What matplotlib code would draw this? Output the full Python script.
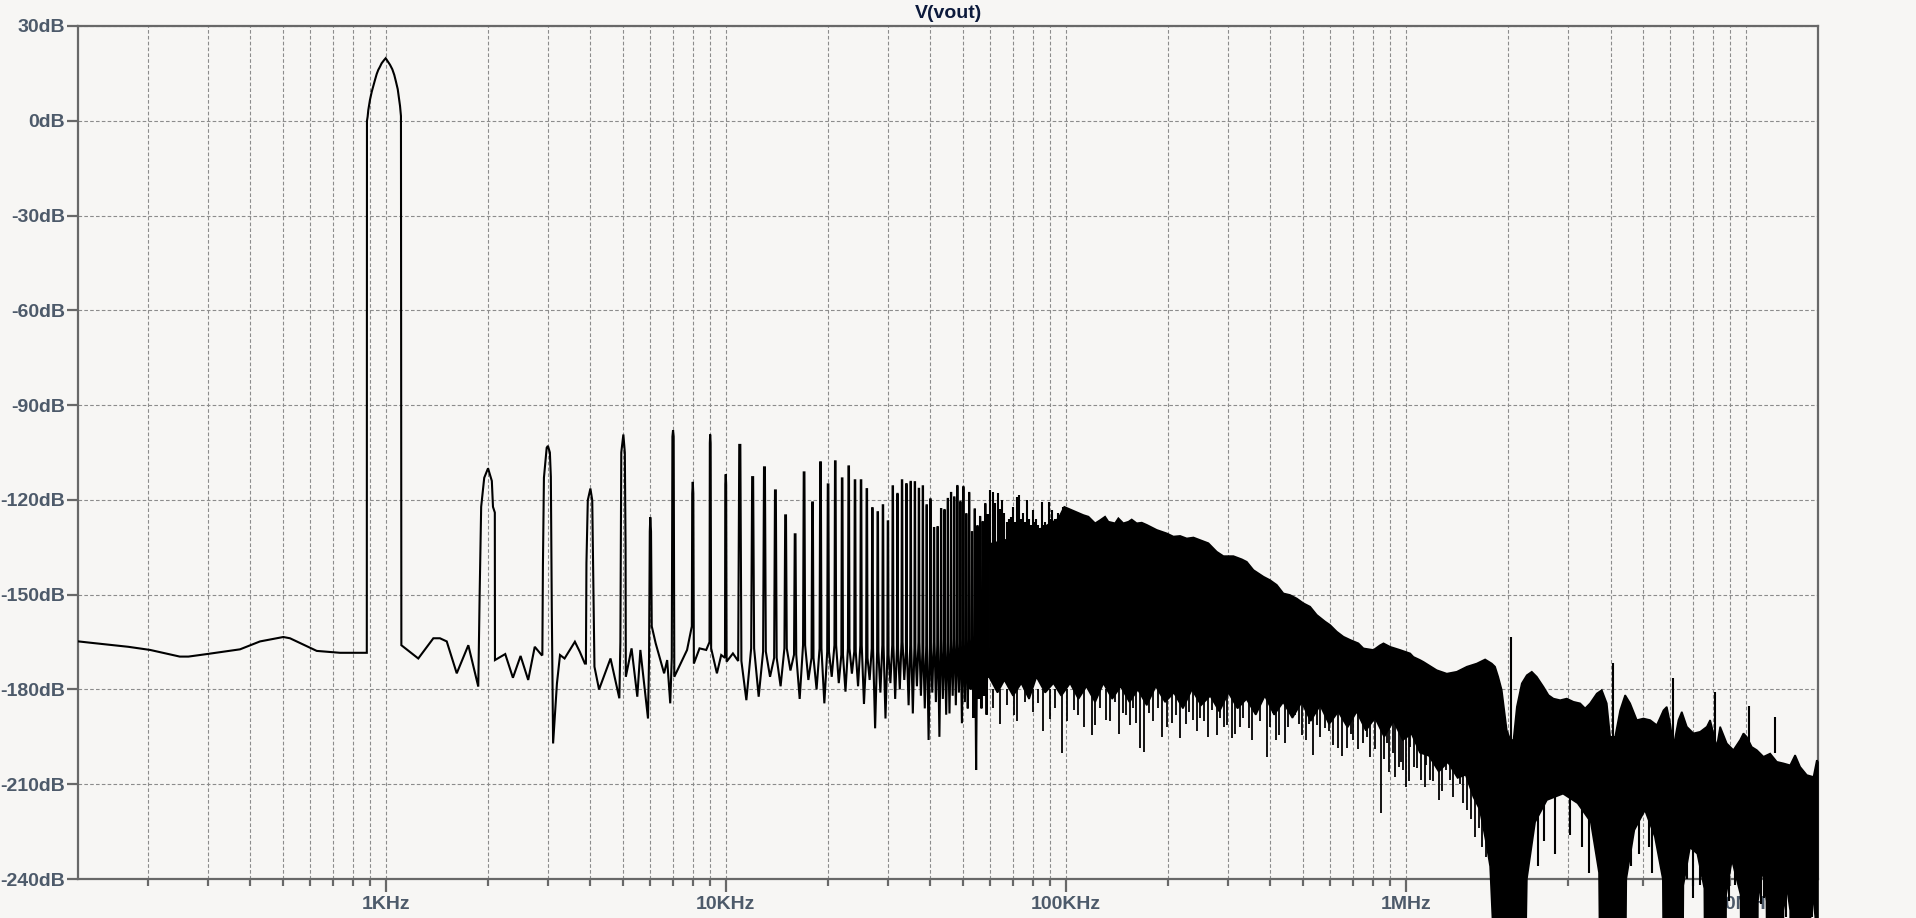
import matplotlib
matplotlib.use("Agg")
import matplotlib.pyplot as plt
from matplotlib.ticker import FixedLocator, FixedFormatter, LogLocator, NullFormatter

plt.rcParams['lines.scale_dashes'] = False
plt.rcParams['font.family'] = ['Liberation Sans', 'DejaVu Sans']
plt.rcParams['font.weight'] = 'bold'

# ---------------- data ----------------
title = "V(vout)"

x_tick_vals = [1e3, 1e4, 1e5, 1e6, 1e7]
x_tick_labels = ["1KHz", "10KHz", "100KHz", "1MHz", "10MHz"]
y_tick_vals = [30, 0, -30, -60, -90, -120, -150, -180, -210, -240]
y_tick_labels = [f"{v}dB" for v in y_tick_vals]

# low-frequency trace 125 Hz .. 10.5 kHz (Hz, dB)
lf_freq = [125, 135, 175, 203, 248, 263, 298, 373, 427, 500, 523, 627, 734, 880,
           881, 885, 889, 899, 910, 919.5, 930, 941, 951, 962, 973, 989, 1000, 1011, 1030,
           1046, 1060, 1072, 1085, 1094, 1102, 1109, 1112,
           1247, 1381, 1444, 1512, 1618, 1750, 1872,
           1889, 1909, 1949, 2000, 2052, 2068, 2094, 2096,
           2247, 2367, 2493, 2625, 2744, 2874,
           2889, 2900, 2920, 2975, 3000, 3040, 3060, 3080, 3107,
           3189, 3256, 3358, 3601, 3724, 3852,
           3880, 3894, 3930, 4000, 4050, 4078, 4111,
           4241, 4584, 4866,
           4900, 4930, 5000, 5050, 5075, 5084,
           5286, 5495, 5610, 5908,
           5950, 5980, 6000, 6030, 6060, 6223,
           6589, 6727, 6868,
           6940, 6970, 7000, 7030, 7060, 7697,
           7950, 7970, 8000, 8030, 8060, 8375, 8762,
           8960, 8980, 9000, 9030, 9060, 9421, 9700,
           9950, 9970, 10000, 10030, 10060, 10500]
lf_db = [-164.8, -165.2, -166.5, -167.5, -169.6, -169.6, -168.8, -167.3, -164.8, -163.4, -163.8, -167.8, -168.4, -168.4,
         0.0, 1.3, 3.4, 6.6, 9.2, 11.0, 12.9, 14.8, 16.1, 17.1, 18.2, 19.2, 19.8, 19.0, 17.7,
         16.3, 14.5, 12.4, 10.0, 7.1, 4.7, 1.5, -166.0,
         -170.2, -163.8, -163.8, -164.8, -174.9, -166.0, -179.1,
         -150.7, -122.2, -113.0, -110.0, -114.0, -122.2, -124.0, -170.7,
         -168.8, -176.3, -169.4, -177.0, -166.5, -169.1,
         -169.0, -141.0, -113.0, -103.5, -102.9, -105.0, -112.7, -155.0, -197.1,
         -178.1, -169.1, -170.2, -164.9, -168.1, -171.8,
         -171.8, -140.0, -120.1, -116.4, -120.1, -145.0, -172.8,
         -180.0, -170.2, -182.8,
         -165.0, -105.0, -99.3, -105.0, -135.0, -176.0,
         -167.0, -182.3, -167.5, -189.2,
         -170.0, -130.0, -125.5, -130.0, -160.0, -165.4,
         -174.9, -170.7, -184.4,
         -170.0, -100.0, -97.9, -100.0, -176.0, -167.5,
         -160.0, -118.0, -114.3, -118.0, -171.8, -167.0, -167.5,
         -165.0, -102.0, -99.3, -102.0, -167.0, -174.9, -169.1,
         -170.0, -115.0, -111.9, -115.0, -171.2, -168.6]

# harmonics 11..59 kHz: peak level, floor beside the spike, dip in the gap after it
harm_k = list(range(11, 60))
harm_peak_db = [-102.6, -112.8, -109.7, -117.0, -124.9, -130.9, -111.3, -120.8, -108.1, -115.1,
                -107.8, -113.2, -109.4, -113.8, -113.8, -116.6, -122.6, -123.9, -121.7, -126.8,
                -115.7, -118.1, -113.8, -115.0, -114.3, -114.4, -116.5, -115.7, -121.7, -119.8,
                -128.9, -128.6, -122.9, -123.2, -119.7, -117.8, -119.2, -115.6, -120.6, -115.9,
                -124.5, -117.8, -130.2, -123.0, -128.3, -125.4, -127.0, -121.3, -124.8]
harm_floor_db = [-171, -167, -168, -170, -167, -169, -166, -170, -167, -168,
                 -166, -169, -167, -168, -166, -170, -167, -168, -166, -169,
                 -166, -167, -165, -168, -166, -167, -165, -168, -166, -167,
                 -165, -166, -164, -167, -165, -166, -164, -166, -165, -164,
                 -166, -164, -165, -163, -165, -164, -163, -165, -164]
gap_dip_db = [-183.4, -182.3, -176, -179, -174, -183, -177, -180, -184.4, -176,
              -178, -180.7, -175, -179, -184.6, -177, -192.3, -181, -189.2, -178,
              -183, -180, -177, -185, -187.6, -179, -182, -186, -196, -181,
              -184, -195, -183, -188, -187.6, -182, -185, -181, -190.7, -184,
              -186, -180, -189, -205.5, -183, -186, -182, -188]

# harmonic spikes riding on the dense region, 60..98 kHz
hf_k = list(range(60, 99))
hf_peak_db = [-116.9, -117.4, -121.0, -117.9, -123.0, -120.1, -124.0, -127.0, -125.9, -125.3,
              -122.2, -127.0, -119.0, -118.5, -126.0, -124.0, -127.0, -120.1, -126.0, -128.0,
              -123.2, -127.0, -125.9, -128.0, -129.0, -120.6, -128.0, -127.0, -129.0, -120.6,
              -126.0, -123.2, -127.0, -126.0, -128.0, -124.3, -127.0, -126.0, -122.4]

# dense region: upper envelope
env_up_f = [59.5e3, 65e3, 75e3, 85e3, 95e3, 99e3, 112.7e3, 116.6e3, 122e3, 126.2e3, 130.5e3, 133.5e3,
            139.6e3, 142.8e3, 147.7e3, 152.9e3, 156.3e3, 161.7e3, 167.3e3, 173.1e3, 185.2e3, 198.2e3,
            207.3e3, 216.9e3, 226.9e3, 237.4e3, 248.3e3, 262.7e3, 278e3, 290.9e3, 311.2e3, 329.4e3,
            340.7e3, 356.4e3, 381.4e3, 398.9e3, 417.3e3, 436.6e3, 456.6e3, 477.8e3, 499.8e3, 523.1e3,
            547.2e3, 578.9e3, 599e3, 626.6e3, 655.5e3, 685.8e3, 725.5e3, 750.7e3, 803.3e3, 840e3,
            859.8e3, 899.3e3, 962.4e3, 1.03e6, 1.053e6, 1.102e6, 1.128e6, 1.233e6, 1.32e6, 1.412e6,
            1.512e6, 1.617e6, 1.711e6, 1.79e6, 1.83e6, 1.87e6, 1.915e6, 1.981e6, 2.03e6,
            2.073e6, 2.121e6, 2.193e6, 2.269e6, 2.347e6, 2.428e6, 2.541e6, 2.628e6, 2.718e6, 2.844e6,
            2.974e6, 3.112e6, 3.256e6, 3.368e6, 3.483e6, 3.645e6, 3.77e6, 3.9e6, 3.99e6, 4.127e6,
            4.269e6, 4.416e6, 4.568e6, 4.779e6, 5.0e6, 5.231e6, 5.472e6, 5.725e6, 5.855e6, 5.99e6,
            6.125e6, 6.336e6, 6.481e6, 6.706e6, 7.015e6, 7.34e6, 7.68e6, 7.852e6, 8.03e6, 8.214e6,
            8.403e6, 8.79e6, 9.193e6, 9.62e6, 9.84e6, 10.06e6, 10.41e6, 10.77e6, 11.27e6, 11.79e6,
            12.33e6, 12.9e6, 13.5e6, 13.96e6, 14.44e6, 15.11e6, 15.81e6, 16.17e6, 16.3e6]
env_up_db = [-134, -133, -131, -129, -126, -122.2, -124.8, -125.3, -127.4, -126.4, -125.3, -126.9,
             -127.4, -125.8, -127.4, -126.9, -126.2, -127.4, -127.2, -127.9, -129.5, -130.6,
             -131.6, -131.4, -132.2, -131.9, -132.7, -133.7, -136.4, -137.8, -137.8, -138.8,
             -139.6, -142.2, -144.3, -145.4, -146.9, -149.6, -150.1, -151.2, -152.7, -153.8,
             -156.4, -158.5, -159.6, -161.7, -163.3, -164.3, -165.4, -167.0, -167.5, -166.0,
             -165.4, -166.5, -167.5, -168.6, -169.7, -170.7, -171.3, -173.9, -175.0, -174.4,
             -172.8, -171.8, -170.5, -171.8, -172.8, -176.0, -180.2, -192.9, -196.0,
             -196.0, -185.5, -178.1, -175.5, -174.4, -176.0, -179.2, -181.8, -182.9, -183.4,
             -182.9, -183.9, -184.4, -186.0, -184.4, -181.3, -180.2, -184.4, -195.0, -195.0,
             -186.6, -181.8, -184.4, -189.7, -189.2, -189.7, -191.3, -186.6, -185.5, -190.8,
             -198.2, -189.7, -187.1, -191.8, -193.9, -193.4, -191.8, -189.7, -193.9, -198.2,
             -191.8, -197.1, -199.2, -196.0, -193.9, -195.0, -198.2, -199.2, -201.3, -200.3,
             -202.9, -203.4, -204.0, -200.8, -204.5, -207.1, -207.7, -202.4, -203.0]

# dense region: lower envelope (values below -240 run off the plot, over the labels)
env_lo_f = [59.5e3, 63e3, 66e3, 70e3, 74e3, 78e3, 82e3, 87e3, 92e3, 97e3, 103e3, 109e3, 115e3,
            122e3, 129e3, 137e3, 145e3, 154e3, 163e3, 173e3, 184e3, 196e3, 208e3, 221e3, 235e3,
            250e3, 266e3, 283e3, 301e3, 320e3, 340e3, 362e3, 385e3, 410e3, 436e3, 464e3, 494e3,
            525e3, 560e3, 595e3, 633e3, 674e3, 717e3, 763e3, 812e3, 864e3, 920e3, 980e3, 1.04e6,
            1.1e6, 1.17e6, 1.25e6, 1.33e6, 1.42e6, 1.5e6, 1.58e6, 1.65e6, 1.72e6, 1.77e6, 1.82e6,
            2.25e6, 2.27e6, 2.4e6, 2.6e6, 2.9e6, 3.2e6, 3.5e6, 3.7e6, 3.72e6,
            4.43e6, 4.45e6, 4.7e6, 5.05e6, 5.4e6, 5.7e6, 5.72e6,
            6.53e6, 6.55e6, 6.85e6, 7.2e6, 7.55e6, 7.57e6,
            8.73e6, 8.75e6, 9.1e6, 9.65e6, 9.67e6,
            10.83e6, 10.85e6, 11.2e6, 11.5e6, 11.52e6,
            12.88e6, 12.9e6, 13.2e6, 13.5e6, 13.52e6,
            15.48e6, 15.5e6, 15.7e6, 16.0e6, 16.02e6, 16.3e6]
env_lo_db = [-176, -181, -177, -182, -178, -183, -176, -181, -178, -182, -178, -183, -179,
             -184, -178, -183, -179, -184, -180, -185, -179, -184, -181, -186, -180,
             -185, -182, -187, -181, -186, -183, -188, -182, -188, -184, -189, -184,
             -190, -185, -191, -187, -192, -187, -193, -189, -195, -190, -196, -194,
             -200, -201, -206, -203, -208, -207, -214, -218, -228, -236, -265,
             -265, -240, -222, -215, -213, -216, -222, -238, -265,
             -265, -240, -224.5, -218.2, -226.6, -240, -265,
             -265, -242, -230, -232, -243, -265,
             -265, -245, -234, -245, -265,
             -265, -247, -237, -247, -265,
             -265, -250, -242.5, -250, -265,
             -265, -252, -244, -252, -265, -265]

# downward spikes below the dense band
dn_f = [61e3, 64e3, 67e3, 70.2e3, 72e3, 75.9e3, 80e3, 83.1e3, 86e3, 89.9e3, 93e3, 97.3e3, 101e3,
        105.8e3, 109e3, 113e3, 119.2e3, 122e3, 126e3, 131.4e3, 135e3, 139.6e3, 143e3, 147.7e3,
        150e3, 154.6e3, 158e3, 161e3, 165.4e3, 170e3, 176.2e3, 181e3, 187e3, 192.4e3, 198e3,
        205e3, 211e3, 216.9e3, 225e3, 231e3, 237.4e3, 243e3, 248.3e3, 255e3, 262e3, 268.8e3,
        278e3, 285e3, 292e3, 297.5e3, 307.7e3, 315e3, 325.6e3, 333e3, 346.8e3, 354e3, 364.5e3,
        372e3, 390e3, 398e3, 408e3, 416e3, 425e3, 441.6e3, 450e3, 472.6e3, 485e3, 494.5e3,
        510e3, 520e3, 532.5e3, 547.2e3, 560e3, 578.9e3, 595e3, 612.6e3, 633.6e3, 650e3,
        670.5e3, 690e3, 701.5e3, 725e3, 750.7e3, 770e3, 785.2e3, 810e3, 846e3, 860e3, 878e3,
        895e3, 915e3, 930e3, 953e3, 965e3, 980e3, 998e3, 1.02e6, 1.03e6, 1.06e6, 1.08e6, 1.11e6,
        1.14e6, 1.15e6, 1.18e6, 1.2e6, 1.25e6, 1.28e6, 1.31e6, 1.35e6, 1.38e6, 1.44e6, 1.47e6,
        1.51e6, 1.55e6, 1.6e6, 1.64e6, 1.68e6, 1.72e6]
dn_db = [-186, -191, -185, -188.1, -190, -183.9, -187, -184.4, -193, -189.5, -186, -200.2, -190,
         -186.5, -188, -192, -194.4, -191.3, -186, -189.7, -190, -183.9, -194, -187.6,
         -188, -191.3, -186, -190.7, -198.6, -199.7, -187.6, -190, -186, -195.0, -192,
         -190.7, -188, -195.5, -191, -187, -189.7, -193, -189.1, -190, -195, -186.5,
         -194.4, -189, -192, -191.3, -195.5, -194, -191.8, -189, -192.3, -196, -186.5,
         -190, -201.3, -192, -187.6, -196, -194.4, -197.1, -192, -188.1, -191, -194.4,
         -196, -191, -200.8, -191.3, -195, -192.3, -193, -197.6, -198.6, -201,
         -198.6, -194, -196.0, -199, -197.1, -195, -201.3, -199, -219.2, -202, -197.1,
         -206.0, -200, -207.7, -204.5, -203, -205.5, -210.8, -209, -198.2, -204.5, -205, -208.7,
         -211, -204.0, -208.7, -209, -215.0, -212, -205.5, -208.7, -214, -209.8, -216,
         -218.2, -221, -226.6, -224, -230, -233.0]

# black spikes hanging into the white notches above 2 MHz
gap_spk_f = [2.45e6, 2.55e6, 2.75e6, 3.05e6, 3.3e6, 3.45e6, 4.6e6, 4.85e6, 5.2e6, 5.3e6,
             6.7e6, 7.0e6, 7.35e6, 8.9e6, 9.3e6, 11.05e6, 11.3e6, 13.1e6, 15.6e6]
gap_spk_db = [-236, -228, -232, -226, -230, -238, -236, -232, -230, -238,
              -240, -246, -242, -247, -242, -248, -246, -252, -252]

# upward spikes (harmonics of ~2 MHz)
up_f = [2.04e6, 4.062e6, 6.09e6, 8.123e6, 10.2e6, 12.2e6]
up_db = [-163.5, -171.5, -176.5, -180.9, -185.1, -188.7]

# ---------------- figure ----------------
W, H = 1916, 918
bg = '#f7f6f4'
fig = plt.figure(figsize=(W / 100, H / 100), dpi=100, facecolor=bg)
ax = fig.add_axes([78 / W, 1 - 879 / H, (1818 - 78) / W, (879 - 26) / H], facecolor=bg)
ax.set_xscale('log')
ax.set_xlim(124.5, 16.3e6)
ax.set_ylim(-240, 30)
ax.set_axisbelow(True)

# main trace: explicit part + harmonic comb
tr_f = list(lf_freq)
tr_db = list(lf_db)
for i, k in enumerate(harm_k):
    fk = k * 1000.0
    tr_f += [fk - 120, fk - 40, fk + 40, fk + 120]
    tr_db += [harm_floor_db[i], harm_peak_db[i], harm_peak_db[i], harm_floor_db[i]]
    if i < len(gap_dip_db):
        tr_f.append(fk + 500)
        tr_db.append(gap_dip_db[i])
tr_f.append(env_up_f[0])
tr_db.append(env_lo_db[0])

lw = 1.5
ax.plot(tr_f, tr_db, color='black', lw=lw, zorder=3, solid_joinstyle='miter')

# dense part as a filled band
poly_f = env_up_f + env_lo_f[::-1]
poly_db = env_up_db + env_lo_db[::-1]
ax.fill(poly_f, poly_db, facecolor='black', edgecolor='black', lw=1.2, zorder=3, clip_on=False)

ax.vlines([k * 1000.0 for k in hf_k], -140, hf_peak_db, color='black', lw=lw, zorder=3)
ax.vlines(dn_f, dn_db, -180, color='black', lw=1.3, zorder=3, clip_on=False)
ax.vlines(gap_spk_f, gap_spk_db, -210, color='black', lw=lw, zorder=3, clip_on=False)
ax.vlines(up_f, -200, up_db, color='black', lw=lw, zorder=3)

# axes styling
spine_c = '#686868'
for s in ax.spines.values():
    s.set_color(spine_c)
    s.set_linewidth(1.6)

ax.xaxis.set_major_locator(FixedLocator(x_tick_vals))
ax.xaxis.set_major_formatter(FixedFormatter(x_tick_labels))
ax.xaxis.set_minor_locator(LogLocator(base=10, subs=[2, 3, 4, 5, 6, 7, 8, 9], numticks=20))
ax.xaxis.set_minor_formatter(NullFormatter())
ax.yaxis.set_major_locator(FixedLocator(y_tick_vals))
ax.yaxis.set_major_formatter(FixedFormatter(y_tick_labels))

lab_c = '#4d5a6a'
ax.tick_params(axis='x', which='major', direction='out', length=13 * 0.72, width=1.6,
               color=spine_c, labelsize=14, labelcolor=lab_c, pad=3)
ax.tick_params(axis='x', which='minor', direction='out', length=7 * 0.72, width=1.6, color=spine_c)
ax.tick_params(axis='y', which='major', direction='out', length=11 * 0.72, width=1.6,
               color=spine_c, labelsize=14, labelcolor=lab_c, pad=1.5)

grid_kw = dict(color='#8c8c8c', lw=0.8, linestyle=(0, (2.6, 1.6)))
ax.grid(True, which='major', axis='both', **grid_kw)
ax.grid(True, which='minor', axis='x', **grid_kw)

for lab in ax.get_xticklabels() + ax.get_yticklabels():
    lab.set_fontweight('bold')

fig.text(948 / W, 1 - 13 / H, title, ha='center', va='center', fontsize=14,
         fontweight='bold', color='#0c1a3c')

fig.savefig('out.png', dpi=100, facecolor=bg)
